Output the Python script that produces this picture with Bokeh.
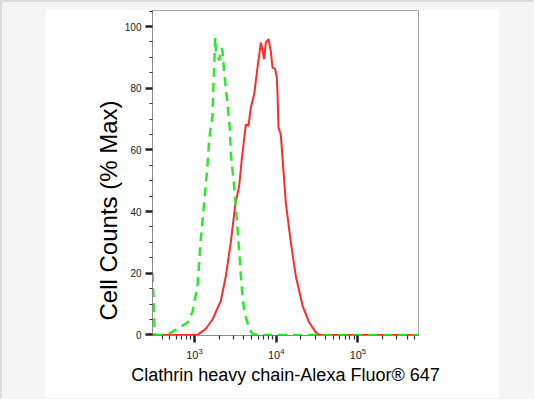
from bokeh.plotting import figure
from bokeh.models import Range1d, FixedTicker, Title
from bokeh.layouts import column
from bokeh.embed import file_html
from bokeh.resources import INLINE

# Control (isotype / unstained) - green dashed
control_x = [306, 315, 324, 333, 430, 494, 620, 820, 946, 1089, 1184, 1314, 1442,
             1513, 1661, 1694, 1742, 1791, 1830, 1858, 2005, 2157, 2202, 2310, 2535,
             2705, 2781, 3061, 3294, 3526, 3762, 4058, 4674, 5129, 6000, 20000,
             100000, 552000]
control_y = [20, 12, 2, 0, 0, 0.5, 2, 4, 7.5, 16, 30, 43, 55,
             63.5, 71, 79, 87, 96.5, 92, 91.5, 89, 93, 92, 85, 75,
             67, 59, 48, 37.5, 27, 16, 7.5, 2, 0.3, 0, 0,
             0, 0]

# Clathrin heavy chain stained sample - red solid
sample_x = [306, 1089, 1375, 1661, 2099, 2416, 2781, 3147, 3526, 3795, 4249, 4579,
            4889, 5380, 5902, 6486, 7130, 7464, 8054, 8586, 9011, 9725, 10170,
            10380, 10670, 11380, 11940, 13100, 15100, 17400, 21000, 25350, 30550,
            33570, 552000]
sample_y = [0, 0, 2, 5, 11, 19, 30, 42, 48.5, 57, 68.3, 67.8,
            73.7, 78, 86.7, 94.8, 89.4, 94.8, 95.9, 92, 86.7, 86.2, 83.5,
            78, 67.3, 65, 57.5, 43, 30, 19, 9.5, 4, 0.8,
            0, 0]

y_major = [0, 20, 40, 60, 80, 100]
y_minor = [v for v in range(0, 106, 5) if v not in y_major]
x_major = [1e3, 1e4, 1e5]
x_minor = [k * 10 ** e for e in (2, 3, 4, 5) for k in range(2, 10)]

x_label = "Clathrin heavy chain-Alexa Fluor\u00ae 647"
y_label = "Cell Counts (% Max)"

p = figure(width=454, height=389, x_axis_type="log",
           x_range=Range1d(306, 552000), y_range=Range1d(-0.2, 105.2),
           output_backend="svg", toolbar_location=None,
           min_border_left=107, min_border_right=81,
           min_border_top=1, min_border_bottom=63,
           margin=(9, 35, 1, 45))
p.grid.visible = False
p.background_fill_color = "white"
p.border_fill_color = "white"
p.outline_line_color = "#a8a8a8"
p.outline_line_width = 1

p.line(sample_x, sample_y, line_color="#ff2b2b", line_width=2)
p.line(control_x, control_y, line_color="#2ee82e", line_width=2.5, line_dash="9 6")

font = "Liberation Sans"
for ax in (p.xaxis[0], p.yaxis[0]):
    ax.axis_line_color = "#8a8a8a"
    ax.major_tick_line_color = "#222222"
    ax.minor_tick_line_color = "#333333"
    ax.major_tick_line_width = 2.5
    ax.minor_tick_line_width = 1.2
    ax.major_tick_in = 0
    ax.minor_tick_in = 0
    ax.major_tick_out = 7
    ax.major_label_text_font = font
    ax.major_label_text_font_size = "10px"
    ax.major_label_text_color = "#222222"
    ax.axis_label_text_font = font
    ax.axis_label_text_font_style = "normal"
    ax.axis_label_text_color = "black"

p.yaxis[0].ticker = FixedTicker(ticks=y_major, minor_ticks=y_minor)
p.yaxis[0].minor_tick_out = 3
p.yaxis[0].major_label_standoff = 4

p.xaxis[0].ticker = FixedTicker(ticks=x_major, minor_ticks=x_minor)
p.xaxis[0].minor_tick_out = 4
p.xaxis[0].major_label_standoff = 5
p.xaxis[0].major_label_text_font_size = "11px"
p.xaxis[0].axis_label = x_label
p.xaxis[0].axis_label_text_font_size = "18px"
p.xaxis[0].axis_label_standoff = 3

# y axis title, placed like the original (below the frame's centre)
p.add_layout(Title(text=y_label, align="left", offset=15,
                   text_font=font, text_font_size="24px",
                   text_font_style="normal", text_color="black",
                   standoff=0), "left")

page = column(p, styles={"background-color": "#f5f5f5",
                         "box-shadow": "inset 2px 2px 0 #dddddd"})

open("out.html", "w").write(file_html(page, INLINE))
